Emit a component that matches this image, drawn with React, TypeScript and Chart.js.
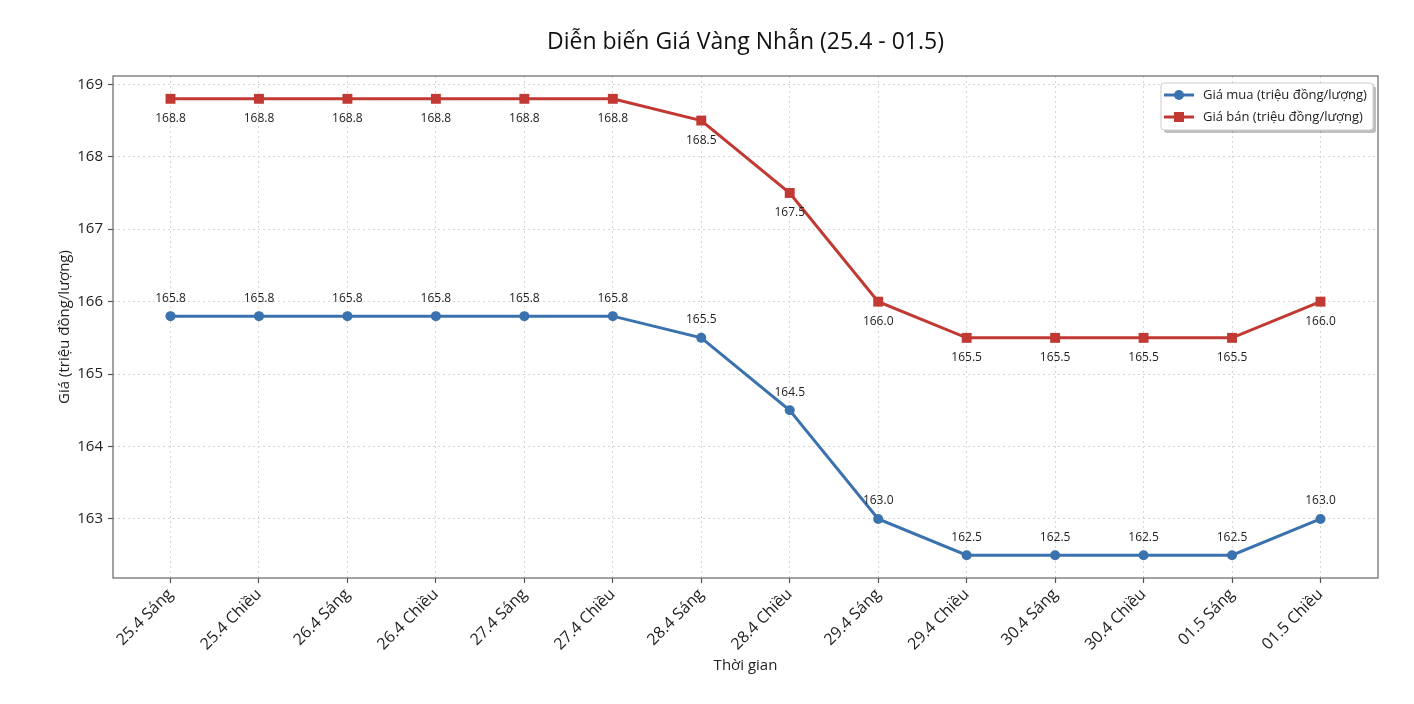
import { useEffect, useRef } from "react"
import { Chart, registerables } from "chart.js"
import type { Plugin } from "chart.js"

Chart.register(...registerables)

const FONT = "'Open Sans', sans-serif"

const periods = [
  "25.4 Sáng", "25.4 Chiều", "26.4 Sáng", "26.4 Chiều", "27.4 Sáng", "27.4 Chiều",
  "28.4 Sáng", "28.4 Chiều", "29.4 Sáng", "29.4 Chiều", "30.4 Sáng", "30.4 Chiều",
  "01.5 Sáng", "01.5 Chiều",
]
const buyPrices = [165.8, 165.8, 165.8, 165.8, 165.8, 165.8, 165.5, 164.5, 163.0, 162.5, 162.5, 162.5, 162.5, 163.0]
const sellPrices = [168.8, 168.8, 168.8, 168.8, 168.8, 168.8, 168.5, 167.5, 166.0, 165.5, 165.5, 165.5, 165.5, 166.0]
const yTicks = [163, 164, 165, 166, 167, 168, 169]

const BLUE = "#3a72ae"
const RED = "#c23832"

const titleText = "Diễn biến Giá Vàng Nhẫn (25.4 - 01.5)"
const xTitle = "Thời gian"
const yTitle = "Giá (triệu đồng/lượng)"
const buyLabel = "Giá mua (triệu đồng/lượng)"
const sellLabel = "Giá bán (triệu đồng/lượng)"

// titles, frame, value labels and legend box drawn by hand (matplotlib look)
const decorPlugin: Plugin<"line"> = {
  id: "decor",
  afterDatasetsDraw(chart) {
    const { ctx, chartArea: a } = chart
    ctx.save()
    // value labels
    ctx.font = `12px ${FONT}`
    ctx.fillStyle = "#222"
    ctx.textAlign = "center"
    ctx.textBaseline = "middle"
    chart.data.datasets.forEach((ds, di) => {
      const meta = chart.getDatasetMeta(di)
      meta.data.forEach((pt, i) => {
        const v = (ds.data[i] as { y: number }).y
        const dy = di === 0 ? -18 : 20
        ctx.fillText(v.toFixed(1), pt.x, pt.y + dy)
      })
    })
    // frame
    ctx.strokeStyle = "#666"
    ctx.lineWidth = 1.2
    ctx.strokeRect(a.left, a.top, a.right - a.left, a.bottom - a.top)

    // legend
    const lx = 1161, ly = 83, lw = 212, lh = 47
    ctx.fillStyle = "rgba(0,0,0,0.25)"
    ctx.beginPath()
    ctx.roundRect(lx + 3, ly + 3, lw, lh, 3)
    ctx.fill()
    ctx.fillStyle = "#fff"
    ctx.strokeStyle = "#ccc"
    ctx.lineWidth = 1
    ctx.beginPath()
    ctx.roundRect(lx, ly, lw, lh, 3)
    ctx.fill()
    ctx.stroke()
    const rows = [
      { label: buyLabel, color: BLUE, square: false, y: ly + 12 },
      { label: sellLabel, color: RED, square: true, y: ly + 34 },
    ]
    ctx.font = `13px ${FONT}`
    ctx.textAlign = "left"
    rows.forEach((r) => {
      ctx.strokeStyle = r.color
      ctx.fillStyle = r.color
      ctx.lineWidth = 3
      ctx.beginPath()
      ctx.moveTo(lx + 3, r.y)
      ctx.lineTo(lx + 33, r.y)
      ctx.stroke()
      ctx.beginPath()
      if (r.square) ctx.rect(lx + 18 - 5, r.y - 5, 10, 10)
      else ctx.arc(lx + 18, r.y, 5, 0, Math.PI * 2)
      ctx.fill()
      ctx.fillStyle = "#222"
      ctx.fillText(r.label, lx + 42, r.y)
    })

    // titles
    const cx = (a.left + a.right) / 2
    ctx.fillStyle = "#111"
    ctx.textAlign = "center"
    ctx.font = `23px ${FONT}`
    ctx.fillText(titleText, cx, 42)
    ctx.font = `15px ${FONT}`
    ctx.fillStyle = "#222"
    ctx.fillText(xTitle, cx, 666)
    ctx.translate(65, (a.top + a.bottom) / 2)
    ctx.rotate(-Math.PI / 2)
    ctx.fillText(yTitle, 0, 0)
    ctx.restore()
  },
}

export default function App() {
  const chartRef = useRef<HTMLCanvasElement>(null)
  const chartInstance = useRef<Chart | null>(null)

  useEffect(() => {
    document.body.style.margin = "0"
    if (!chartRef.current) return
    if (chartInstance.current) chartInstance.current.destroy()
    const ctx = chartRef.current.getContext("2d")
    if (!ctx) return

    chartInstance.current = new Chart(ctx, {
      type: "line",
      data: {
        datasets: [
          {
            label: buyLabel,
            data: buyPrices.map((y, i) => ({ x: i, y })),
            borderColor: BLUE,
            backgroundColor: BLUE,
            borderWidth: 3,
            pointStyle: "circle",
            pointRadius: 5,
            pointBorderWidth: 0,
            tension: 0,
          },
          {
            label: sellLabel,
            data: sellPrices.map((y, i) => ({ x: i, y })),
            borderColor: RED,
            backgroundColor: RED,
            borderWidth: 3,
            pointStyle: "rect",
            pointRadius: 7,
            pointBorderWidth: 0,
            tension: 0,
          },
        ],
      },
      options: {
        responsive: false,
        animation: false,
        layout: { padding: { top: 76, right: 36, left: 0, bottom: 0 } },
        plugins: {
          legend: { display: false },
          title: { display: false },
          tooltip: { enabled: false },
        },
        scales: {
          x: {
            type: "linear",
            min: -0.65,
            max: 13.65,
            afterFit: (s) => { s.height = 126 },
            afterBuildTicks: (s) => { s.ticks = periods.map((_, i) => ({ value: i })) },
            ticks: {
              callback: (v) => periods[Number(v)] ?? "",
              maxRotation: 45,
              minRotation: 45,
              autoSkip: false,
              padding: 2,
              color: "#222",
              font: { family: FONT, size: 16 },
            },
            grid: {
              color: "#d6d6d6",
              tickLength: 5,
              tickColor: "#555",
              tickBorderDash: [],
              tickWidth: 1.2,
            },
            border: { display: false, dash: [2, 3] },
          },
          y: {
            min: 162.185,
            max: 169.115,
            afterFit: (s) => { s.width = 113 },
            afterBuildTicks: (s) => { s.ticks = yTicks.map((value) => ({ value })) },
            ticks: {
              padding: 5,
              color: "#222",
              font: { family: FONT, size: 15 },
            },
            grid: {
              color: "#d6d6d6",
              tickLength: 5,
              tickColor: "#555",
              tickBorderDash: [],
              tickWidth: 1.2,
            },
            border: { display: false, dash: [2, 3] },
          },
        },
      },
      plugins: [decorPlugin],
    })

    return () => {
      if (chartInstance.current) {
        chartInstance.current.destroy()
        chartInstance.current = null
      }
    }
  }, [])

  return <canvas ref={chartRef} width={1414} height={704} style={{ display: "block" }} />
}
